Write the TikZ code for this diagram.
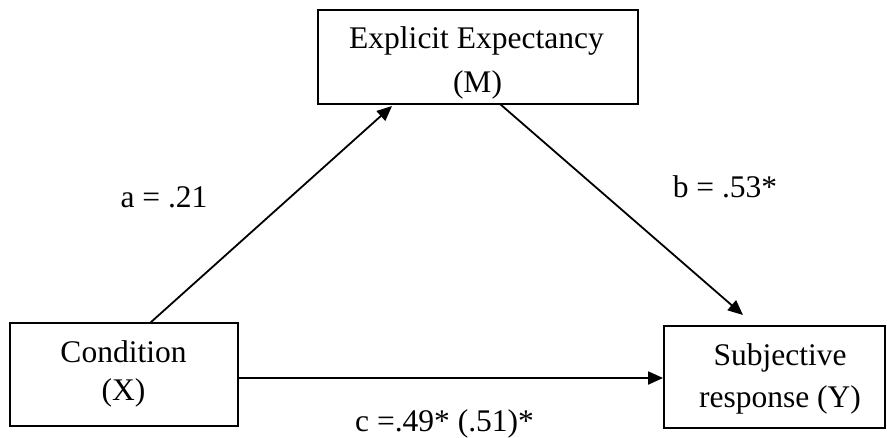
\documentclass[tikz,border=0pt]{standalone}
\usepackage{fontspec}
\setmainfont{Liberation Serif}
\usetikzlibrary{arrows.meta}
\begin{document}
\begin{tikzpicture}[x=1pt,y=-1pt,
  box/.style={draw,line width=1.8pt,inner sep=0pt},
  txt/.style={anchor=base,inner sep=0pt,font=\fontsize{31.5}{36}\selectfont},
  arr/.style={line width=1.8pt,-{Triangle[length=15pt,width=13pt]}}]
\useasboundingbox (0,0) rectangle (887,437);
\node[box,minimum width=320pt,minimum height=94pt] (mbox) at (478,57) {};
\node[box,minimum width=228pt,minimum height=103pt] (xbox) at (124,374.5) {};
\node[box,minimum width=221pt,minimum height=102pt] (ybox) at (774.5,377) {};
\node[txt] (m1) at (476.5,48) {Explicit Expectancy};
\node[txt] (m2) at (477.5,92) {(M)};
\node[txt] (x1) at (123.5,362) {Condition};
\node[txt] (x2) at (123.5,400) {(X)};
\node[txt] (y1) at (780,365) {Subjective};
\node[txt] (y2) at (780,407) {response (Y)};
\node[txt] (la) at (164,207) {a = .21};
\node[txt] (lb) at (725,197) {b = .53*};
\node[txt] (lc) at (444.5,431) {c =.49* (.51)*};
\coordinate (xs) at (150,323);
\coordinate (me) at (392,106);
\coordinate (ms) at (500,104);
\coordinate (ye) at (743,315);
\draw[arr] (xs) -- (me);
\draw[arr] (ms) -- (ye);
\draw[arr] (xbox.east |- 0,378) -- (ybox.west |- 0,378);
\end{tikzpicture}
\end{document}
